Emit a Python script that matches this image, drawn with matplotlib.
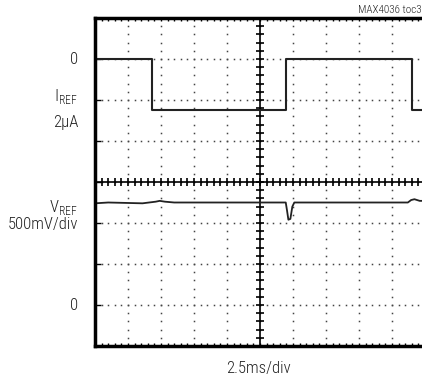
import numpy as np
import matplotlib
matplotlib.use("Agg")
import matplotlib.pyplot as plt

plt.rcParams['font.family'] = ['Roboto Condensed', 'DejaVu Sans']

# IREF trace (ms, uA) - step levels
iref_t = [0.0, 4.3, 14.5, 24.0, 25.0]
iref_ua = [0.0, -2.5, 0.0, -2.5, -2.5]

# VREF trace (ms, V)
vref_t = [0.0, 1.0, 3.6, 4.6, 4.9, 5.3, 6.0, 12.0, 14.45, 14.55, 14.65, 14.8, 14.95, 15.1,
          18.0, 23.7, 23.95, 24.2, 24.6, 25.0]
vref_v = [1.24, 1.25, 1.24, 1.26, 1.27, 1.26, 1.25, 1.25, 1.25, 1.15, 1.04, 1.05, 1.2, 1.25,
          1.25, 1.25, 1.28, 1.29, 1.27, 1.27]

iref_zero_div = 7.0   # division where IREF = 0
iref_scale = 2.0      # uA/div
vref_zero_div = 1.0   # division where VREF = 0
vref_scale = 0.5      # V/div
ms_per_div = 2.5

fig = plt.figure(figsize=(4.22, 3.79), dpi=100)
W, H = 422, 379
ax = fig.add_axes([95 / W, (H - 346) / H, 330 / W, 328 / H])
ax.set_xlim(0, 10 * ms_per_div)
ax.set_ylim(0, 8)

# dotted graticule
for k in range(1, 10):
    ys = np.arange(0, 8.01, 0.2)
    ax.plot(np.full_like(ys, k * ms_per_div), ys, ls='none', marker='s', ms=1.1,
            color='#444444', mec='none')
for k in range(1, 8):
    xs = np.arange(0, 25.01, 0.5)
    ax.plot(xs, np.full_like(xs, k), ls='none', marker='s', ms=1.1,
            color='#444444', mec='none')

# center crosshair with ticks
ax.axvline(12.5, color='black', lw=1.2)
ax.axhline(4.0, color='black', lw=1.2)
ys = np.arange(0, 8.01, 0.2)
ax.plot(np.full_like(ys, 12.5), ys, ls='none', marker='_', ms=6, mew=1.2, color='black')
xs = np.arange(0, 25.01, 0.5)
ax.plot(xs, np.full_like(xs, 4.0), ls='none', marker='|', ms=6, mew=1.2, color='black')

# traces
iy = [iref_zero_div + v / iref_scale for v in iref_ua]
ax.plot(iref_t, iy, drawstyle='steps-post', color='#222222', lw=1.5)
vy = [vref_zero_div + v / vref_scale for v in vref_v]
ax.plot(vref_t, vy, color='#222222', lw=1.3)

for s in ['left', 'top', 'bottom']:
    ax.spines[s].set_linewidth(2.5)
ax.spines['right'].set_visible(False)
ax.set_xticks(np.arange(0, 25.01, 0.5), minor=True)
ax.set_xticks([])
ax.set_yticks(np.arange(0, 8.01, 1))
ax.tick_params(axis='y', direction='in', length=4, width=1, labelleft=False, left=True)
ax.tick_params(axis='x', which='minor', direction='in', length=2.5, width=1,
               top=True, bottom=True)

# labels
fs = 12
tc = '#222222'
kw = dict(ha='right', va='center', fontsize=fs, color=tc, fontweight='light')
fig.text(78 / W, 1 - 59 / H, '0', **kw)
fig.text(78 / W, 1 - 96 / H, r'I$_\mathregular{REF}$', **kw)
fig.text(78 / W, 1 - 122 / H, '2μA', **kw)
fig.text(78 / W, 1 - 207 / H, r'V$_\mathregular{REF}$', **kw)
fig.text(78 / W, 1 - 224 / H, '500mV/div', **kw)
fig.text(78 / W, 1 - 305 / H, '0', **kw)
fig.text(258 / W, 1 - 368 / H, '2.5ms/div', ha='center', va='center', fontsize=fs,
         color=tc, fontweight='light')
fig.text(358 / W, 1 - 10 / H, 'MAX4036 toc32', ha='left', va='center', fontsize=8,
         color=tc, fontweight='light')

fig.savefig('out.png', dpi=100)
